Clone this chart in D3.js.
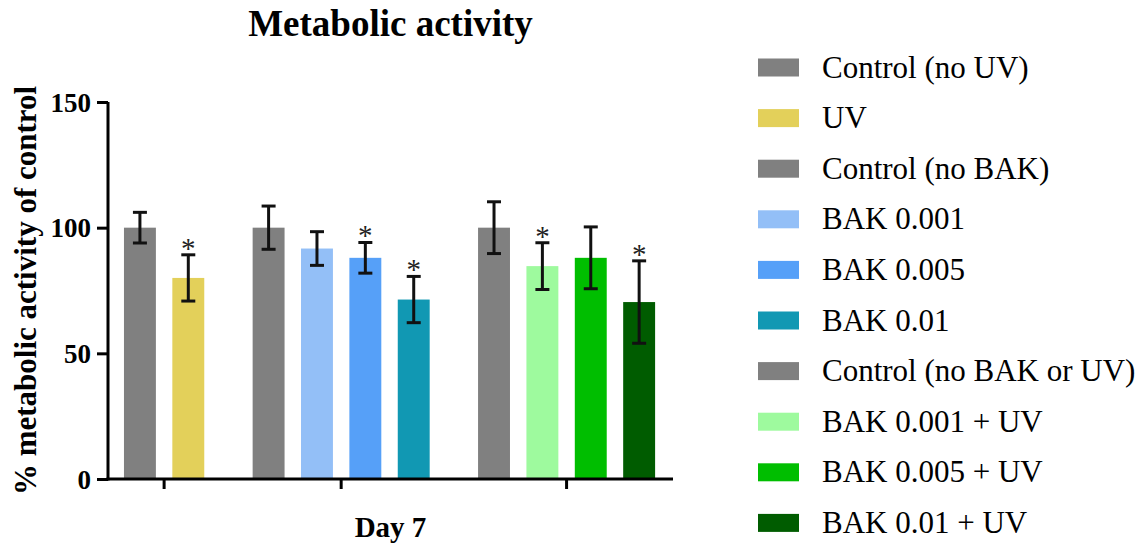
<!DOCTYPE html>
<html>
<head>
<meta charset="utf-8">
<script src="https://cdn.jsdelivr.net/npm/d3@7"></script>
<style>
  html, body { margin: 0; padding: 0; background: #fff; }
  svg { display: block; }
  text { font-family: "Liberation Serif", "Times New Roman", serif; fill: #000; }
</style>
</head>
<body>
<svg id="chart" width="1138" height="546"></svg>
<script>
// Day 7 metabolic activity, grouped by experiment (mean ± SD, % of control)
const groups = ["UV", "BAK", "BAK + UV"];
const seriesNames = [
  "Control (no UV)", "UV",
  "Control (no BAK)", "BAK 0.001", "BAK 0.005", "BAK 0.01",
  "Control (no BAK or UV)", "BAK 0.001 + UV", "BAK 0.005 + UV", "BAK 0.01 + UV"
];
const seriesGroup = [0, 0, 1, 1, 1, 1, 2, 2, 2, 2];
const means = [100, 80, 100, 91.7, 88, 71.4, 100, 84.7, 88, 70.4];
const sds   = [6.1, 9.2, 8.6, 6.7, 6.1, 9.2, 10.3, 9.3, 12.3, 16.4];
const significant = [false, true, false, false, true, true, false, true, false, true];
const colors = [
  "#808080", "#e3d05a",
  "#808080", "#93bff7", "#56a0f8", "#1198b3",
  "#808080", "#9efa9e", "#00be00", "#005c00"
];
const yTicks = [0, 50, 100, 150];
const xAxisLabel = "Day 7";
const yAxisLabel = "% metabolic activity of control";
const title = "Metabolic activity";

const svg = d3.select("#chart");

// Plot frame
const plotLeft = 108, plotRight = 673, plotTop = 102, plotBottom = 479;
const barW = 0.66;      // bar width in slot units
const groupGap = 0.66;  // extra spacing between groups in slot units

// Slot position of every bar: index plus accumulated group gaps
const slots = seriesGroup.map((g, i) => i + g * groupGap);
const slotMax = slots[slots.length - 1] + barW;

const x = d3.scaleLinear().domain([-0.33, slotMax + 0.37]).range([plotLeft, plotRight]);
const y = d3.scaleLinear().domain([0, 150]).range([plotBottom, plotTop]);

// Group tick positions at the middle of each group's bars
const groupCenters = groups.map((_, g) => {
  const s = slots.filter((_, i) => seriesGroup[i] === g);
  return (x(s[0]) + x(s[s.length - 1] + barW)) / 2;
});

// Bars
const bars = svg.append("g");
seriesNames.forEach((name, i) => {
  bars.append("rect")
    .attr("x", x(slots[i]))
    .attr("y", y(means[i]))
    .attr("width", x(slots[i] + barW) - x(slots[i]))
    .attr("height", y(0) - y(means[i]))
    .attr("fill", colors[i]);
});

// Error bars and significance marks
const err = svg.append("g").attr("stroke", "#111").attr("stroke-width", 3).attr("fill", "none");
seriesNames.forEach((name, i) => {
  const cx = x(slots[i] + barW / 2);
  const hi = y(means[i] + sds[i]), lo = y(means[i] - sds[i]);
  err.append("line").attr("x1", cx).attr("x2", cx).attr("y1", hi).attr("y2", lo);
  err.append("line").attr("x1", cx - 7).attr("x2", cx + 7).attr("y1", hi).attr("y2", hi);
  err.append("line").attr("x1", cx - 7).attr("x2", cx + 7).attr("y1", lo).attr("y2", lo);
  if (significant[i]) {
    svg.append("text")
      .attr("x", cx).attr("y", hi + 3)
      .attr("text-anchor", "middle")
      .style("font-size", "29px")
      .style("fill", "#222")
      .text("*");
  }
});

// Y axis
const yAxis = svg.append("g")
  .attr("transform", `translate(${plotLeft},0)`)
  .call(d3.axisLeft(y).tickValues(yTicks).tickSize(11).tickPadding(6));
yAxis.selectAll("path, line").attr("stroke", "#000").attr("stroke-width", 3);
yAxis.select(".domain").attr("d", `M0,${plotBottom + 1.5}V${plotTop}`);
yAxis.selectAll("text")
  .style("font-family", '"Liberation Serif", "Times New Roman", serif')
  .style("font-size", "27px").style("font-weight", "bold").attr("fill", "#000")
  .attr("dy", "0.34em");

// X axis with a tick under each group
const xAxis = svg.append("g").attr("stroke", "#000").attr("stroke-width", 3);
xAxis.append("line").attr("x1", plotLeft - 1.5).attr("x2", plotRight).attr("y1", plotBottom).attr("y2", plotBottom);
groupCenters.forEach(cx => {
  xAxis.append("line").attr("x1", cx).attr("x2", cx).attr("y1", plotBottom).attr("y2", plotBottom + 10);
});

// Titles
svg.append("text")
  .attr("x", (plotLeft + plotRight) / 2).attr("y", 36)
  .attr("text-anchor", "middle")
  .style("font-size", "37px").style("font-weight", "bold")
  .text(title);

svg.append("text")
  .attr("x", (plotLeft + plotRight) / 2).attr("y", 537)
  .attr("text-anchor", "middle")
  .style("font-size", "29px").style("font-weight", "bold")
  .text(xAxisLabel);

svg.append("text")
  .attr("transform", `translate(36,${(plotTop + plotBottom) / 2}) rotate(-90)`)
  .attr("text-anchor", "middle")
  .style("font-size", "31px").style("font-weight", "bold")
  .text(yAxisLabel);

// Legend
const legend = svg.append("g").attr("transform", "translate(758,67.5)");
const rowH = 50.6;
seriesNames.forEach((name, i) => {
  const row = legend.append("g").attr("transform", `translate(0,${i * rowH})`);
  row.append("rect").attr("x", 0).attr("y", -9).attr("width", 41).attr("height", 18).attr("fill", colors[i]);
  row.append("text").attr("x", 64).attr("y", 10)
    .style("font-size", "31px")
    .text(name);
});
</script>
</body>
</html>
